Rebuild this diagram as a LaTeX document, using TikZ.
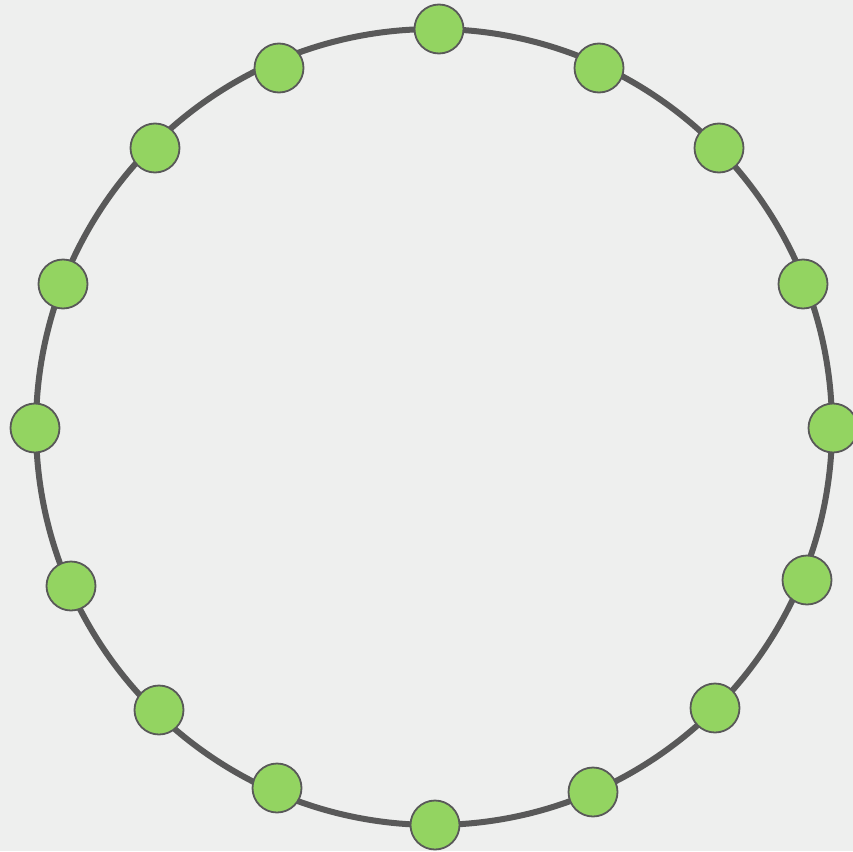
\documentclass[tikz,border=0pt]{standalone}
\usetikzlibrary{positioning,calc}
\definecolor{ringGray}{HTML}{595959}
\definecolor{peerGreen}{HTML}{93D461}
\definecolor{paperGray}{HTML}{EEEFEE}

\begin{document}
\begin{tikzpicture}[x=1pt, y=-1pt,
    peer/.style={circle, draw=ringGray, line width=1.8pt, fill=peerGreen, minimum size=49pt, inner sep=0pt}]
        \useasboundingbox (0,0) rectangle (853,851);
        \clip (0,0) rectangle (853,851);
        \fill[paperGray] (0,0) rectangle (853,851);
        \coordinate (hub) at (434,427);
        % the ring
        \draw[ringGray, line width=6pt] (hub) circle (398);
        % sixteen peers round it, clockwise from the top
        \foreach \i/\x/\y in {0/439/29, 1/599/68, 2/719/148, 3/803/284, 4/833/428,
                              5/807/580, 6/715/708, 7/593/792, 8/435/825, 9/277/788,
                              10/159/710, 11/71/586, 12/35/428, 13/63/284, 14/155/148, 15/279/68} {
          \node[peer] (p\i) at (\x,\y) {};
        }
      \end{tikzpicture}
\end{document}
